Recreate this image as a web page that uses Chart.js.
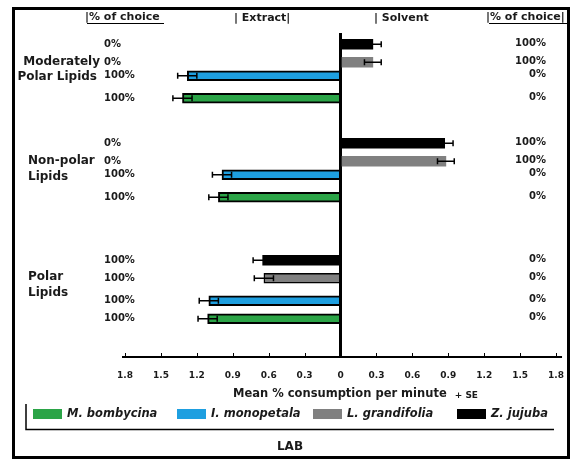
<!DOCTYPE html>
<html lang="en">
<head>
    <meta charset="UTF-8">
    <title>LAB - Lipid choice</title>
    <style>
        html, body { margin: 0; padding: 0; background: #fff; }
        #wrap { width: 577px; height: 465px; }
    </style>
</head>
<body>
    <div id="wrap"><canvas id="lipid-chart" width="577" height="465"></canvas></div>

    <script src="https://cdn.jsdelivr.net/npm/chart.js"></script>
    <script>
        // Lipid classes, top to bottom (label lines)
        const lipidGroups = [['Moderately', 'Polar Lipids'], ['Non-polar', 'Lipids'], ['Polar', 'Lipids']];

        // Species in the order their bars appear inside each group (top to bottom)
        const species = ['Z. jujuba', 'L. grandifolia', 'I. monopetala', 'M. bombycina'];
        const speciesColors = ['#000000', '#808080', '#1e9fe0', '#2ba447'];
        // legend lists them the other way round
        const legendOrder = [3, 2, 1, 0];

        // Mean % consumption per minute (negative = extract side, positive = solvent side)
        const zJujuba      = [0.27, 0.87, -0.65];
        const lGrandifolia = [0.27, 0.88, -0.64];
        const iMonopetala  = [-1.28, -0.99, -1.10];
        const mBombycina   = [-1.32, -1.02, -1.11];

        // Standard errors
        const zJujubaSE      = [0.07, 0.07, 0.08];
        const lGrandifoliaSE = [0.07, 0.07, 0.08];
        const iMonopetalaSE  = [0.08, 0.08, 0.08];
        const mBombycinaSE   = [0.08, 0.08, 0.08];

        // % of choice: extract column (left) and solvent column (right)
        const extractChoice = [[0, 0, 100, 100], [0, 0, 100, 100], [100, 100, 100, 100]];
        const solventChoice = [[100, 100, 0, 0], [100, 100, 0, 0], [0, 0, 0, 0]];

        // x axis ticks
        const xTicks = [-1.8, -1.5, -1.2, -0.9, -0.6, -0.3, 0, 0.3, 0.6, 0.9, 1.2, 1.5, 1.8];

        // Row layout: the y axis is split into thin slots, bars sit in these slots
        const rowCount = 72;
        const rowSlots = [[2, 6, 9, 14], [24, 28, 31, 36], [50, 54, 59, 63]];

        const seriesValues = [zJujuba, lGrandifolia, iMonopetala, mBombycina];
        const seriesSE = [zJujubaSE, lGrandifoliaSE, iMonopetalaSE, mBombycinaSE];

        const FONT = '"DejaVu Sans", Verdana, sans-serif';
        const INK = '#1a1a1a';

        const datasets = species.map((name, s) => {
            const data = Array(rowCount).fill(null);
            const se = Array(rowCount).fill(null);
            rowSlots.forEach((slots, g) => {
                data[slots[s]] = seriesValues[s][g];
                se[slots[s]] = seriesSE[s][g];
            });
            return {
                label: name,
                data: data,
                se: se,
                backgroundColor: speciesColors[s],
                borderColor: '#000',
                borderWidth: ctx => {
                    if (s >= 2) return 2;
                    if (s === 1 && ctx.dataIndex === rowSlots[2][1]) return 1.5;
                    return 0;
                },
                barThickness: 10,
                grouped: false
            };
        });

        // Error bars drawn on top of the bars
        const errorBars = {
            id: 'errorBars',
            afterDatasetsDraw(chart) {
                const ctx = chart.ctx;
                const xs = chart.scales.x;
                ctx.save();
                ctx.strokeStyle = '#000';
                ctx.lineWidth = 1.5;
                chart.data.datasets.forEach((ds, i) => {
                    const meta = chart.getDatasetMeta(i);
                    meta.data.forEach((bar, j) => {
                        const v = ds.data[j];
                        if (v === null) return;
                        const e = ds.se[j];
                        const x1 = xs.getPixelForValue(v - e);
                        const x2 = xs.getPixelForValue(v + e);
                        const y = bar.y;
                        ctx.beginPath();
                        ctx.moveTo(x1, y); ctx.lineTo(x2, y);
                        ctx.moveTo(x1, y - 3); ctx.lineTo(x1, y + 3);
                        ctx.moveTo(x2, y - 3); ctx.lineTo(x2, y + 3);
                        ctx.stroke();
                    });
                });
                ctx.restore();
            }
        };

        // Frame, headers, group labels, % of choice, axis, legend
        const decorations = {
            id: 'decorations',
            afterDraw(chart) {
                const ctx = chart.ctx;
                const area = chart.chartArea;
                const xs = chart.scales.x;
                ctx.save();

                // outer frame
                ctx.strokeStyle = '#000';
                ctx.lineWidth = 3;
                ctx.strokeRect(13.5, 8.5, 555, 449);

                // axis line and small upward ticks
                ctx.lineWidth = 2;
                ctx.beginPath();
                ctx.moveTo(area.left - 3, area.bottom);
                ctx.lineTo(area.right + 6, area.bottom);
                ctx.stroke();
                ctx.lineWidth = 1;
                xTicks.forEach(v => {
                    const px = Math.round(xs.getPixelForValue(v)) + 0.5;
                    ctx.beginPath();
                    ctx.moveTo(px, area.bottom);
                    ctx.lineTo(px, area.bottom - 4);
                    ctx.stroke();
                });

                ctx.fillStyle = INK;
                ctx.textBaseline = 'middle';

                // column headers
                ctx.font = 'bold 11px ' + FONT;
                ctx.textAlign = 'left';
                ctx.fillText('|% of choice', 85, 17);
                ctx.fillText('| Extract|', 234, 18);
                ctx.fillText('| Solvent', 374, 18);
                ctx.fillText('|% of choice|', 486, 17);
                ctx.lineWidth = 1;
                ctx.beginPath();
                ctx.moveTo(87, 23.5); ctx.lineTo(164, 23.5);
                ctx.moveTo(489, 23.5); ctx.lineTo(567, 23.5);
                ctx.stroke();

                // lipid group labels
                ctx.font = 'bold 12px ' + FONT;
                ctx.textAlign = 'right';
                ctx.fillText(lipidGroups[0][0], 100, 62);
                ctx.fillText(lipidGroups[0][1], 97, 77);
                ctx.textAlign = 'left';
                ctx.fillText(lipidGroups[1][0], 28, 161);
                ctx.fillText(lipidGroups[1][1], 28, 177);
                ctx.fillText(lipidGroups[2][0], 28, 277);
                ctx.fillText(lipidGroups[2][1], 28, 293);

                // % of choice next to each bar
                ctx.font = 'bold 10px ' + FONT;
                rowSlots.forEach((slots, g) => {
                    slots.forEach((slot, s) => {
                        const bar = chart.getDatasetMeta(s).data[slot];
                        ctx.textAlign = 'left';
                        ctx.fillText(extractChoice[g][s] + '%', 104, bar.y);
                        ctx.textAlign = 'right';
                        ctx.fillText(solventChoice[g][s] + '%', 546, bar.y - 1);
                    });
                });

                // axis title
                ctx.textAlign = 'left';
                ctx.font = 'bold 11.5px ' + FONT;
                const title = 'Mean % consumption per minute';
                ctx.fillText(title, 233, 394);
                const titleEnd = 233 + ctx.measureText(title).width;
                ctx.font = 'bold 9px ' + FONT;
                ctx.fillText('+ SE', titleEnd + 8, 396);

                // legend
                ctx.lineWidth = 1.5;
                ctx.beginPath();
                ctx.moveTo(26, 404); ctx.lineTo(26, 429.5);
                ctx.lineTo(554, 429.5);
                ctx.stroke();
                const legendX = [33, 177, 313, 457];
                ctx.font = 'italic bold 11.5px ' + FONT;
                legendOrder.forEach((s, k) => {
                    ctx.fillStyle = speciesColors[s];
                    ctx.fillRect(legendX[k], 409, 29, 10);
                    ctx.fillStyle = INK;
                    ctx.fillText(species[s], legendX[k] + 34, 414);
                });

                // panel label
                ctx.font = 'bold 12px ' + FONT;
                ctx.textAlign = 'center';
                ctx.fillText('LAB', 290, 447);

                ctx.restore();
            }
        };

        new Chart(document.getElementById('lipid-chart'), {
            type: 'bar',
            data: {
                labels: Array.from({ length: rowCount }, () => ''),
                datasets: datasets
            },
            options: {
                responsive: false,
                animation: false,
                indexAxis: 'y',
                layout: { padding: { left: 125, right: 20, top: 33, bottom: 0 } },
                plugins: {
                    legend: { display: false },
                    tooltip: { enabled: false }
                },
                scales: {
                    x: {
                        type: 'linear',
                        min: -1.8,
                        max: 1.8,
                        afterBuildTicks: scale => { scale.ticks = xTicks.map(v => ({ value: v })); },
                        afterFit: scale => { scale.height = 108; },
                        ticks: {
                            padding: 13,
                            color: INK,
                            font: { family: FONT, size: 9, weight: 'bold' },
                            callback: v => (v === 0 ? '0' : Math.abs(v).toFixed(1))
                        },
                        grid: {
                            drawTicks: false,
                            color: ctx => (ctx.tick && ctx.tick.value === 0 ? '#000' : 'rgba(0,0,0,0)'),
                            lineWidth: ctx => (ctx.tick && ctx.tick.value === 0 ? 3 : 1)
                        },
                        border: { display: false }
                    },
                    y: {
                        display: false,
                        grid: { display: false }
                    }
                }
            },
            plugins: [errorBars, decorations]
        });
    </script>
</body>
</html>
